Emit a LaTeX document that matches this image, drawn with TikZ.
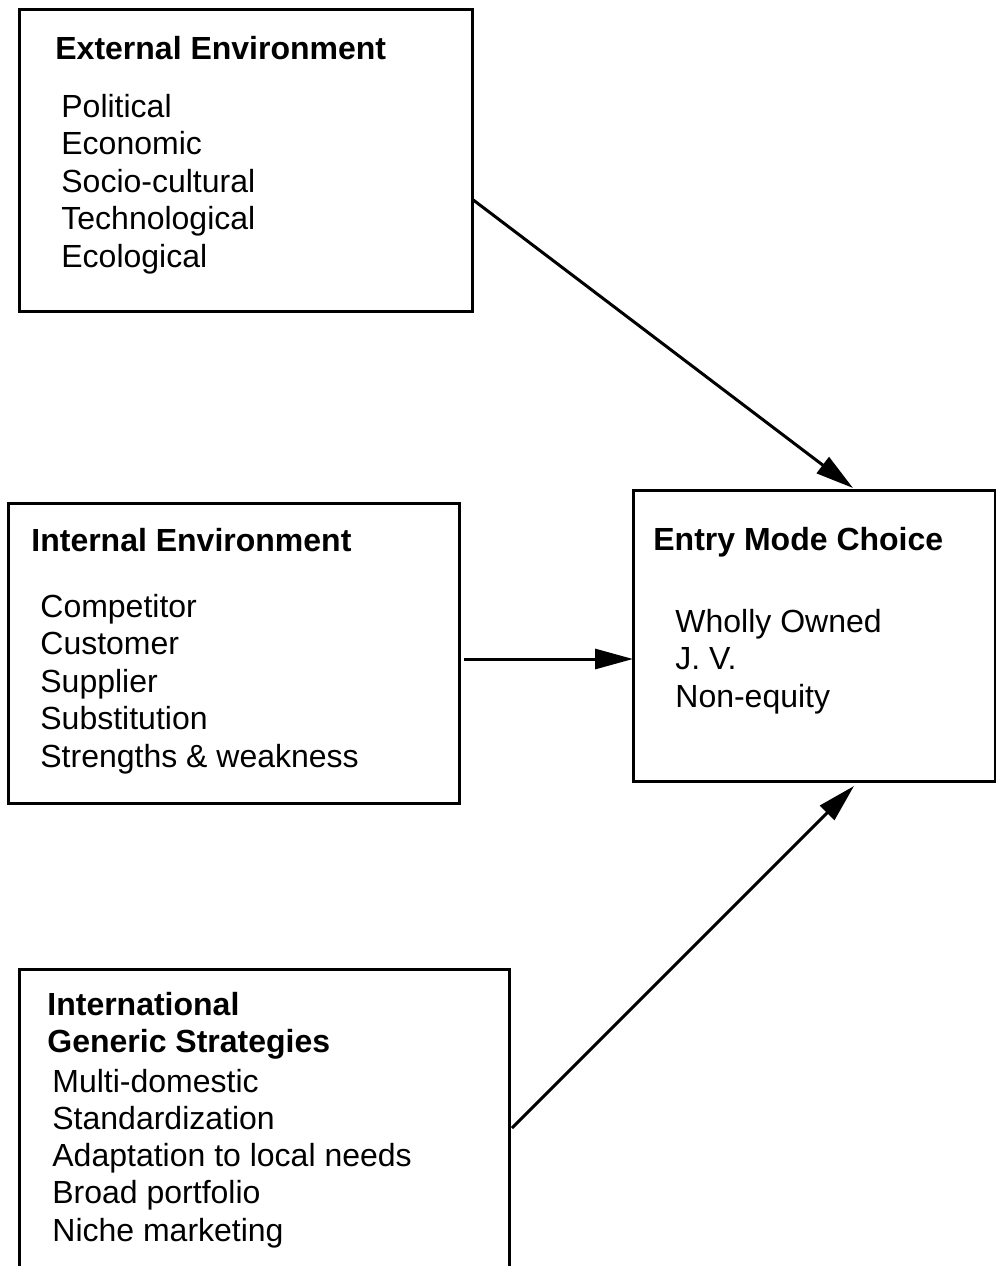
\documentclass[tikz,border=0pt]{standalone}
\usepackage{fontspec}
\setmainfont{Liberation Sans}
\usetikzlibrary{arrows.meta, calc}

\begin{document}
\begin{tikzpicture}[x=0.5pt, y=-0.5pt, >={Triangle[length=19pt, width=10pt]},
	panel/.style={draw, line width=1.5pt, inner sep=0pt, outer sep=0pt, anchor=north west},
	head/.style={anchor=base west, inner sep=0pt, font=\fontsize{16}{18.75}\selectfont\bfseries},
	item/.style={anchor=base west, inner sep=0pt, font=\fontsize{16}{18.75}\selectfont}]
	\useasboundingbox (0,0) rectangle (996,1266);
	\coordinate (e1) at (472,199);
	\coordinate (m1) at (853,488);
	\coordinate (e2) at (464,659);
	\coordinate (m2) at (633,659);
	\coordinate (e3) at (512,1128);
	\coordinate (m3) at (854,786);
	% Boxes
	\node[panel, minimum width=226.5pt, minimum height=151pt] (ext) at (19,9) {};
	\node[panel, minimum width=225.5pt, minimum height=150pt] (int) at (8,503) {};
	\node[panel, minimum width=245pt, minimum height=160.5pt] (intl) at (19,969) {};
	\node[panel, minimum width=181pt, minimum height=145.5pt] (mode) at (633,490) {};
	
	\node[head] (extT) at (55,59) {External Environment};
	\foreach \t [count=\i from 0] in {Political, Economic, Socio-cultural, Technological, Ecological}
		\node[item] (ext\i) at (61,{117+37.5*\i}) {\t};
	
	\node[head] (intT) at (31,551) {Internal Environment};
	\foreach \t [count=\i from 0] in {Competitor, Customer, Supplier, Substitution, Strengths \& weakness}
		\node[item] (int\i) at (40,{617+37.5*\i}) {\t};
	
	\node[head] (intlT) at (47,1015) {International};
	\node[head] (intlG) at (47,1052) {Generic Strategies};
	\foreach \t [count=\i from 0] in {Multi-domestic, Standardization, Adaptation to local needs, Broad portfolio, Niche marketing}
		\node[item] (intl\i) at (52,{1092+37.3*\i}) {\t};
	
	\node[head] (modeT) at (653,550) {Entry Mode Choice};
	\foreach \t [count=\i from 0] in {Wholly Owned, J. V., Non-equity}
		\node[item] (mode\i) at (675,{632+37.5*\i}) {\t};
	
	% Arrows
	\draw[->, line width=1.5pt] (e1) -- (m1);
	\draw[->, line width=1.5pt] (e2) -- (m2);
	\draw[->, line width=1.5pt] (e3) -- (m3);
\end{tikzpicture}
\end{document}
